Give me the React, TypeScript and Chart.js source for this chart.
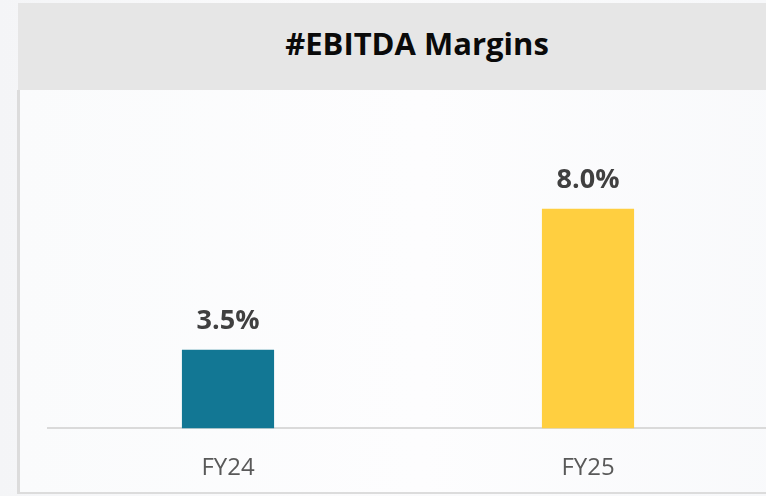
import React, { useEffect, useRef } from "react";
import { Chart, registerables } from "chart.js";

Chart.register(...registerables);

const categories = ["FY24", "FY25"];
const margins = [3.5, 8.0];
const barColors = ["#127794", "#FFCF40"];
const valueLabels = ["3.5%", "8.0%"];
const titleText = "#EBITDA Margins";

const FONT = "'Open Sans', 'DejaVu Sans', sans-serif";

const valueLabelPlugin = {
  id: "valueLabels",
  afterDatasetsDraw(chart: any) {
    const ctx = chart.ctx;
    const meta = chart.getDatasetMeta(0);
    ctx.save();
    ctx.font = `bold 27px ${FONT}`;
    ctx.fillStyle = "#404040";
    ctx.textAlign = "center";
    ctx.textBaseline = "middle";
    meta.data.forEach((bar: any, i: number) => {
      ctx.fillText(valueLabels[i], bar.x, bar.y - 28);
    });
    ctx.restore();
  },
};

export default function App() {
  const ref = useRef<HTMLCanvasElement>(null);

  useEffect(() => {
    document.body.style.margin = "0";
    const chart = new Chart(ref.current!, {
      type: "bar",
      data: {
        labels: categories,
        datasets: [
          {
            data: margins,
            backgroundColor: barColors,
            borderWidth: 0,
            barPercentage: 0.256,
            categoryPercentage: 1,
          },
        ],
      },
      options: {
        responsive: false,
        animation: false,
        devicePixelRatio: 1,
        layout: { padding: { left: 29, right: 0, top: 56, bottom: 0 } },
        plugins: {
          legend: { display: false },
          tooltip: { enabled: false },
          title: { display: false },
        },
        scales: {
          x: {
            grid: { display: false, drawTicks: false },
            border: { display: true, color: "#dadada", width: 2 },
            ticks: {
              color: "#595959",
              padding: 26,
              font: { family: FONT, size: 24 },
            },
          },
          y: {
            display: false,
            min: 1,
            max: 10,
          },
        },
      },
      plugins: [valueLabelPlugin],
    });
    return () => chart.destroy();
  }, []);

  return (
    <div
      style={{
        position: "fixed",
        left: 0,
        top: 0,
        width: 766,
        height: 496,
        overflow: "hidden",
        background: "linear-gradient(90deg, #f4f5f7 0%, #fbfbfc 40%, #f7f8fa 100%)",
      }}
    >
      <div
        style={{
          position: "absolute",
          left: 18,
          top: 3,
          width: 800,
          height: 87,
          background: "#e6e6e6",
        }}
      >
        <div
          style={{
            position: "absolute",
            left: 0,
            width: 798,
            top: -3,
            height: 87,
            lineHeight: "87px",
            textAlign: "center",
            fontFamily: FONT,
            fontWeight: 700,
            fontSize: 31,
            color: "#0a0a0a",
          }}
        >
          {titleText}
        </div>
      </div>
      <div
        style={{
          position: "absolute",
          left: 17,
          top: 90,
          width: 800,
          height: 402,
          borderLeft: "3px solid #dcdcdc",
          borderBottom: "2px solid #dcdcdc",
          background: "linear-gradient(90deg, #fafbfc 0%, #fdfdfe 50%, #f8f9fb 100%)",
        }}
      />
      <canvas
        ref={ref}
        width={749}
        height={419}
        style={{ position: "absolute", left: 19, top: 90, width: 749, height: 419 }}
      />
    </div>
  );
}
